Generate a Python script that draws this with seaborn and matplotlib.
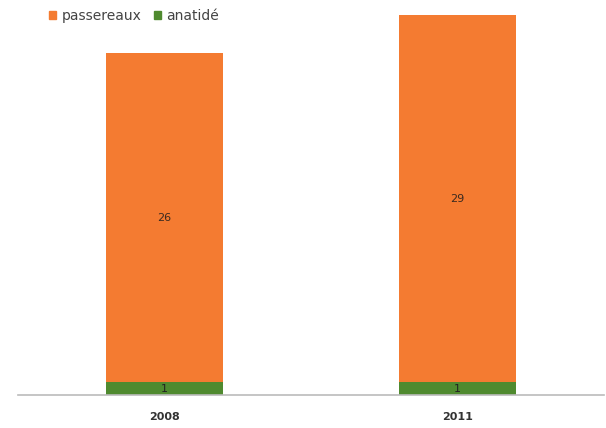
import matplotlib
matplotlib.use("Agg")
import matplotlib.pyplot as plt
import seaborn as sns
import pandas as pd
from matplotlib.patches import Patch

years = ["2008", "2011"]
passereaux = [26, 29]
anatide = [1, 1]

sns.set_theme(style="white")
plt.rcParams['font.family'] = ['DejaVu Sans']

orange = "#F47B31"
green = "#4F8A2F"

df = pd.DataFrame({"year": years, "passereaux": passereaux, "anatidé": anatide})
df["total"] = df["passereaux"] + df["anatidé"]

fig = plt.figure(figsize=(6.06, 4.28), dpi=100)
ax = fig.add_axes([0.03, 0.077, 0.967, 0.888])

# stacked bars: total drawn first in orange, green base on top of it
sns.barplot(data=df, x="year", y="total", color=orange, width=0.4,
            saturation=1, linewidth=0, ax=ax)
sns.barplot(data=df, x="year", y="anatidé", color=green, width=0.4,
            saturation=1, linewidth=0, ax=ax)

for i, (p, a) in enumerate(zip(passereaux, anatide)):
    ax.text(i, a + p / 2, str(p), ha="center", va="center",
            fontsize=8, color="#3a2a20")
    ax.text(i, a / 2, str(a), ha="center", va="center",
            fontsize=8, color="#222222")

ax.set_xlim(-0.5, 1.5)
ax.set_ylim(0, 30)
ax.set_xlabel("")
ax.set_ylabel("")
ax.set_yticks([])
ax.tick_params(axis="x", length=0, pad=12, labelsize=8, labelcolor="#333333")
for lbl in ax.get_xticklabels():
    lbl.set_fontweight("bold")
for s in ["top", "right", "left"]:
    ax.spines[s].set_visible(False)
ax.spines["bottom"].set_color("#BBBBBB")
ax.spines["bottom"].set_linewidth(1.2)

handles = [Patch(color=orange, label="passereaux"),
           Patch(color=green, label="anatidé")]
fig.legend(handles=handles, loc="upper left", bbox_to_anchor=(0.06, 1.008),
           ncol=2, frameon=False, fontsize=10, handlelength=0.55,
           handleheight=0.55, handletextpad=0.35, columnspacing=0.9,
           labelcolor="#444444")

fig.savefig("out.png", dpi=100)
